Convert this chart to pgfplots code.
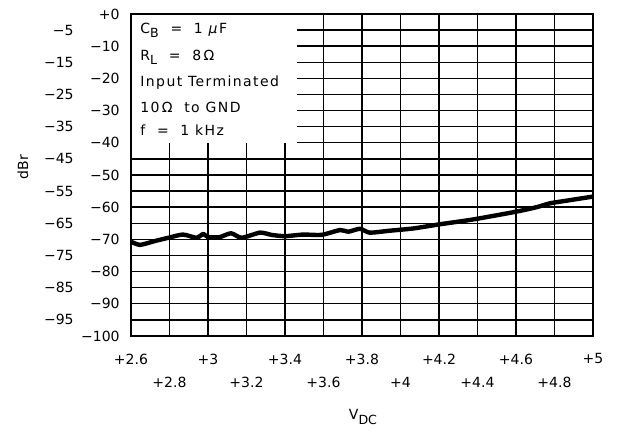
\documentclass[border=0pt]{standalone}
\usepackage{pgfplots}
\pgfplotsset{compat=1.18}
\usepackage{fontspec}
\setmainfont{DejaVu Sans}
\newcommand{\lsub}[1]{\raisebox{-0.55ex}{\fontsize{6.3}{7}\selectfont #1}}
\begin{document}
\begin{tikzpicture}
\path[use as bounding box] (-65.5pt,-50.5pt) rectangle (245.5pt,168pt);
\begin{axis}[
  at={(0pt,0pt)}, anchor=south west,
  scale only axis, width=231pt, height=161pt,
  xmin=2.6, xmax=5, ymin=-100, ymax=0,
  font=\fontsize{7}{8}\selectfont,
  major tick length=0pt,
  axis line style={line width=0.8pt},
  grid=major,
  grid style={black, line width=0.7pt},
  xtick={2.6,3,3.4,3.8,4.2,4.6,5},
  xticklabels={+2.6,+3,+3.4,+3.8,+4.2,+4.6,+5},
  extra x ticks={2.8,3.2,3.6,4,4.4,4.8},
  extra x tick labels={+2.8,+3.2,+3.6,+4,+4.4,+4.8},
  xticklabel style={anchor=center, inner sep=0pt, yshift=-11.5pt},
  extra x tick style={grid=major, xticklabel style={yshift=-11.5pt}},
  ytick={0,-10,-20,-30,-40,-50,-60,-70,-80,-90,-100},
  yticklabels={+0,−10,−20,−30,−40,−50,−60,−70,−80,−90,−100},
  extra y ticks={-5,-15,-25,-35,-45,-55,-65,-75,-85,-95},
  extra y tick labels={−5,−15,−25,−35,−45,−55,−65,−75,−85,−95},
  yticklabel style={anchor=east, inner sep=0pt, xshift=-5.5pt},
  extra y tick style={grid=major, yticklabel style={xshift=-23pt}},
  clip=false,
]
\fill[white] (axis cs:2.6,-40) rectangle (axis cs:3.46,0);
\draw[line width=0.8pt] (rel axis cs:0,0) rectangle (rel axis cs:1,1);
\begin{scope}[every node/.style={anchor=west, inner sep=0pt, font=\fontsize{7}{8}\selectfont\addfontfeature{LetterSpace=10}}]
\node at (rel axis cs:0.0195,0.950) {C\lsub{B}\ \ =\ \ 1 \textit{μ}F};
\node at (rel axis cs:0.0195,0.866) {R\lsub{L}\ \ =\ \ 8\,Ω};
\node at (rel axis cs:0.0195,0.786) {Input Terminated};
\node at (rel axis cs:0.0195,0.711) {10\,Ω\ \ to GND};
\node at (rel axis cs:0.0195,0.640) {f\ \ =\ \ 1 kHz};
\end{scope}
\addplot[black, line width=2.2pt, line join=round, smooth, tension=0.4] coordinates {
(2.600,-70.7) (2.647,-71.7) (2.725,-70.5) (2.794,-69.5) (2.870,-68.5)
(2.940,-69.5) (2.976,-68.3) (3.000,-69.3) (3.060,-69.3) (3.120,-68.1)
(3.175,-69.5) (3.270,-67.9) (3.330,-68.6) (3.400,-69.0) (3.495,-68.5)
(3.590,-68.6) (3.686,-67.1) (3.730,-67.6) (3.790,-66.7) (3.840,-67.9)
(3.945,-67.3) (4.067,-66.6) (4.205,-65.3) (4.378,-63.8) (4.600,-61.4)
(4.707,-60.0) (4.776,-58.8) (4.860,-58.0) (5.000,-56.7)
};
\end{axis}
\node[rotate=90, font=\fontsize{7}{8}\selectfont] at (-54pt,84.5pt) {dBr};
\node[anchor=base, font=\fontsize{7}{8}\selectfont] at (116pt,-42pt) {V\lsub{DC}};
\end{tikzpicture}
\end{document}
